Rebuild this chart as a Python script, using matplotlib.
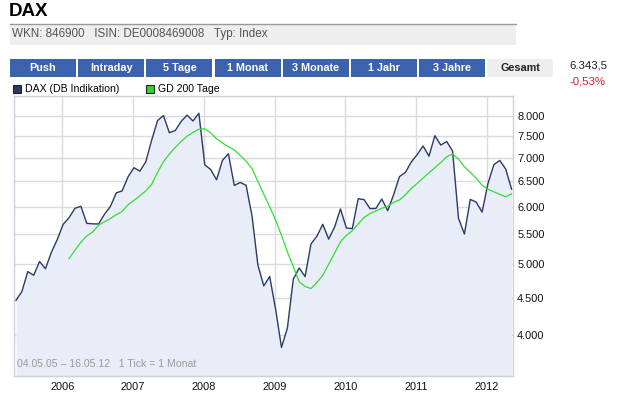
import matplotlib
matplotlib.use("Agg")
import matplotlib.pyplot as plt
from matplotlib.patches import Rectangle
from matplotlib.ticker import FixedLocator, FuncFormatter, NullLocator

plt.rcParams["font.family"] = ["Liberation Sans", "DejaVu Sans"]

W, H = 624, 397

# monthly closes, May 2005 .. May 2012
START = 2005.346
dax = [4460, 4586, 4886, 4829, 5044, 4929, 5193, 5408,
       5674, 5796, 5970, 6009, 5692, 5683, 5681, 5859, 6004, 6269, 6309, 6597,
       6789, 6715, 6917, 7409, 7883, 8007, 7584, 7638, 7862, 8019, 7871, 8067,
       6852, 6748, 6535, 6949, 7097, 6418, 6479, 6422, 5831, 4988, 4669, 4810,
       4338, 3843, 4085, 4770, 4941, 4809, 5332, 5465, 5675, 5415, 5625, 5957,
       5608, 5598, 6154, 6136, 5964, 5966, 6148, 5925, 6229, 6601, 6688, 6914,
       7077, 7273, 7041, 7514, 7294, 7376, 7159, 5785, 5502, 6141, 6089, 5898,
       6458, 6856, 6947, 6761, 6343]

# 200-day average, starts Feb 2006 (9 months after the first close)
GD_OFFSET = 9
gd200 = [5090, 5230, 5360, 5470, 5540, 5660, 5720, 5780, 5850, 5910, 6040, 6120, 6210,
         6310, 6440, 6690, 6920, 7090, 7240, 7380, 7500, 7590, 7670, 7680, 7580, 7440,
         7340, 7260, 7180, 7060, 6930, 6770, 6500, 6240, 6000, 5750, 5480, 5200, 4960,
         4730, 4660, 4630, 4720, 4830, 5000, 5180, 5370, 5480, 5560, 5680, 5800, 5870,
         5920, 5970, 6010, 6080, 6130, 6230, 6360, 6460, 6570, 6680, 6790, 6900, 7030,
         7090, 6980, 6810, 6690, 6570, 6420, 6340, 6290, 6240, 6190, 6250]

years = [2006, 2007, 2008, 2009, 2010, 2011, 2012]
yticks = [4000, 4500, 5000, 5500, 6000, 6500, 7000, 7500, 8000]
buttons = ["Push", "Intraday", "5 Tage", "1 Monat", "3 Monate", "1 Jahr", "3 Jahre", "Gesamt"]

NAVY = "#2c3a64"
GREEN = "#33dd33"
FILL = "#e9edf8"
GRID = "#d9dbe3"
BTN = "#3d62ad"


def fx(px):
    return px / W


def fy(py):
    return 1 - py / H


fig = plt.figure(figsize=(W / 100, H / 100), dpi=100)

# ── header ───────────────────────────────────────────────────────────────
fig.text(fx(9), fy(12), "DAX", fontsize=13.5, fontweight="bold", va="center", ha="left")
fig.add_artist(Rectangle((fx(10), fy(45)), fx(506), 21 / H, transform=fig.transFigure,
                         facecolor="#eeeeee", edgecolor="none"))
fig.add_artist(plt.Line2D([fx(10), fx(516)], [fy(23.5), fy(23.5)], transform=fig.transFigure,
                          color="#9a9a9a", lw=1))
fig.text(fx(12), fy(34), "WKN: 846900   ISIN: DE0008469008   Typ: Index",
         fontsize=8.4, color="#555555", va="center", ha="left")

# button row
bx = 10
for name in buttons:
    gesamt = name == "Gesamt"
    fig.add_artist(Rectangle((fx(bx), fy(77)), fx(66), 18 / H, transform=fig.transFigure,
                             facecolor="#eeeeee" if gesamt else BTN, edgecolor="none"))
    fig.text(fx(bx + 33), fy(68), name, fontsize=7.8, fontweight="bold",
             color="#222222" if gesamt else "white", va="center", ha="center")
    bx += 68.2

fig.text(fx(569), fy(65), "6.343,5", fontsize=8.2, color="#222222", va="center", ha="left")
fig.text(fx(569), fy(82), "-0,53%", fontsize=8.2, color="#cc2222", va="center", ha="left")

# legend row
fig.add_artist(Rectangle((fx(13), fy(93)), 8 / W, 8 / H, transform=fig.transFigure,
                         facecolor=NAVY, edgecolor="#222222", lw=0.8))
fig.text(fx(25), fy(89), "DAX (DB Indikation)", fontsize=7.6, va="center", ha="left")
fig.add_artist(Rectangle((fx(146), fy(93)), 8 / W, 8 / H, transform=fig.transFigure,
                         facecolor="#22dd22", edgecolor="#222222", lw=0.8))
fig.text(fx(158), fy(89), "GD 200 Tage", fontsize=7.6, va="center", ha="left")

# ── chart ────────────────────────────────────────────────────────────────
ax = fig.add_axes([fx(14), fy(376), fx(513 - 14), (376 - 96) / H])
xs = [START + i / 12 for i in range(len(dax))]
xg = [START + (GD_OFFSET + i) / 12 for i in range(len(gd200))]

ymin, ymax = 3510, 8520
ax.set_yscale("log")
ax.fill_between(xs, dax, ymin, color=FILL, lw=0, zorder=1)
ax.plot(xs, dax, color=NAVY, lw=1.0, zorder=3)
ax.plot(xg, gd200, color=GREEN, lw=0.9, zorder=4)

ax.set_xlim(2005.318, 2012.366)
ax.set_ylim(ymin, ymax)
ax.xaxis.set_major_locator(FixedLocator(years))
ax.xaxis.set_major_formatter(FuncFormatter(lambda v, _: f"{v:.0f}"))
ax.yaxis.set_major_locator(FixedLocator(yticks))
ax.yaxis.set_minor_locator(NullLocator())
ax.yaxis.set_major_formatter(FuncFormatter(lambda v, _: f"{v:,.0f}".replace(",", ".")))
ax.yaxis.tick_right()
ax.tick_params(axis="both", length=0, labelsize=7.9, colors="#111111")
ax.tick_params(axis="y", pad=3)
ax.tick_params(axis="x", pad=4)
ax.grid(True, color=GRID, lw=1, zorder=0)
ax.set_axisbelow(True)
for s in ax.spines.values():
    s.set_color("#cfd1d8")
    s.set_linewidth(1)

ax.text(0.007, 0.025, "04.05.05 \u2013 16.05.12   1 Tick = 1 Monat", transform=ax.transAxes,
        fontsize=7.6, color="#9a9a9a", ha="left", va="bottom", zorder=5)

fig.savefig("out.png", dpi=100)
